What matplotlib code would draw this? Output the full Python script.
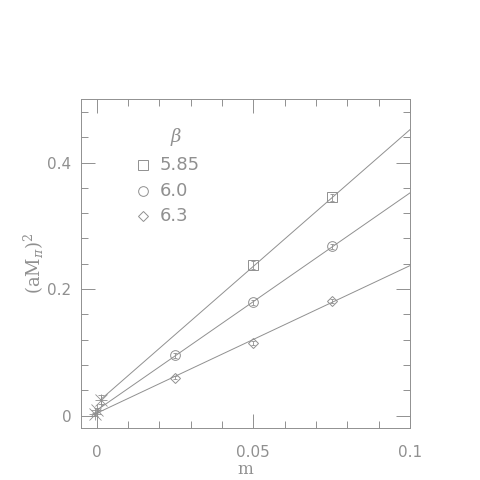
import matplotlib
matplotlib.use("Agg")
import matplotlib.pyplot as plt
import numpy as np

# quark masses and pion masses squared
betas = ["5.85", "6.0", "6.3"]
markers = ["s", "o", "D"]
m_vals = {
    "5.85": [0.05, 0.075],
    "6.0": [0.025, 0.05, 0.075],
    "6.3": [0.025, 0.05, 0.075],
}
mpi2 = {
    "5.85": [0.238, 0.345],
    "6.0": [0.095, 0.179, 0.268],
    "6.3": [0.060, 0.115, 0.181],
}
mpi2_err = {
    "5.85": [0.006, 0.005],
    "6.0": [0.004, 0.004, 0.004],
    "6.3": [0.003, 0.003, 0.003],
}
# linear fits: extrapolated point at chiral limit and value at m = 0.1
chiral_m = [0.0012, 0.0002, -0.0007]
chiral_y = [0.025, 0.009, 0.002]
chiral_err = [0.007, 0.003, 0.002]
end_y = [0.452, 0.352, 0.237]

grey = "#909090"
plt.rcParams["font.family"] = "DejaVu Sans"
plt.rcParams["mathtext.fontset"] = "dejavuserif"

fig = plt.figure(figsize=(4.8, 4.8), dpi=100)
ax = fig.add_axes([0.169, 0.108, 0.685, 0.685])

for i, b in enumerate(betas):
    ax.plot([chiral_m[i], 0.1], [chiral_y[i], end_y[i]], color=grey, lw=0.7)
    ax.errorbar(m_vals[b], mpi2[b], yerr=mpi2_err[b], fmt="none", ecolor=grey,
                elinewidth=0.6, capsize=1.5, capthick=0.6)
    ms = 7 if markers[i] != "D" else 5.5
    ax.plot(m_vals[b], mpi2[b], linestyle="none", marker=markers[i], ms=ms,
            mfc="none", mec=grey, mew=0.7)
    ax.errorbar([chiral_m[i]], [chiral_y[i]], yerr=[chiral_err[i]], fmt="none",
                ecolor=grey, elinewidth=0.6, capsize=2, capthick=0.6)
    for mk in ["x", "+"]:
        ax.plot([chiral_m[i]], [chiral_y[i]], linestyle="none", marker=mk,
                ms=9, mec=grey, mew=0.6)

ax.set_xlim(-0.005, 0.1)
ax.set_ylim(-0.02, 0.5)
ax.set_xticks([0, 0.05, 0.1])
ax.set_xticklabels(["0", "0.05", "0.1"])
ax.set_xticks(np.arange(0, 0.1001, 0.01), minor=True)
ax.set_yticks([0, 0.2, 0.4])
ax.set_yticklabels(["0", "0.2", "0.4"])
ax.set_yticks(np.arange(0, 0.4801, 0.04), minor=True)
ax.tick_params(which="both", direction="in", top=True, right=True, colors=grey,
               labelcolor=grey, labelsize=11, width=0.7)
ax.tick_params(which="major", length=10)
ax.tick_params(axis="x", which="major", pad=12)
ax.tick_params(axis="y", which="major", pad=7)
ax.tick_params(which="minor", length=5)
for s in ax.spines.values():
    s.set_color(grey)
    s.set_linewidth(0.7)

ax.set_xlabel("m", color=grey, fontsize=12, family="DejaVu Serif", labelpad=1)
ax.set_ylabel(r"$(\mathrm{aM}_\pi)^2$", color=grey, fontsize=13, labelpad=1)

# legend drawn by hand
ax.text(0.29, 0.886, r"$\beta$", transform=ax.transAxes, color=grey,
        fontsize=13, ha="center", va="center")
leg_y = [0.80, 0.722, 0.646]
for i, b in enumerate(betas):
    ms = 7 if markers[i] != "D" else 5.5
    ax.plot([0.187], [leg_y[i]], transform=ax.transAxes, marker=markers[i],
            ms=ms, mfc="none", mec=grey, mew=0.7, linestyle="none")
    ax.text(0.24, leg_y[i], b, transform=ax.transAxes, color=grey,
            fontsize=13, va="center", ha="left")

fig.savefig("out.png", dpi=100)
